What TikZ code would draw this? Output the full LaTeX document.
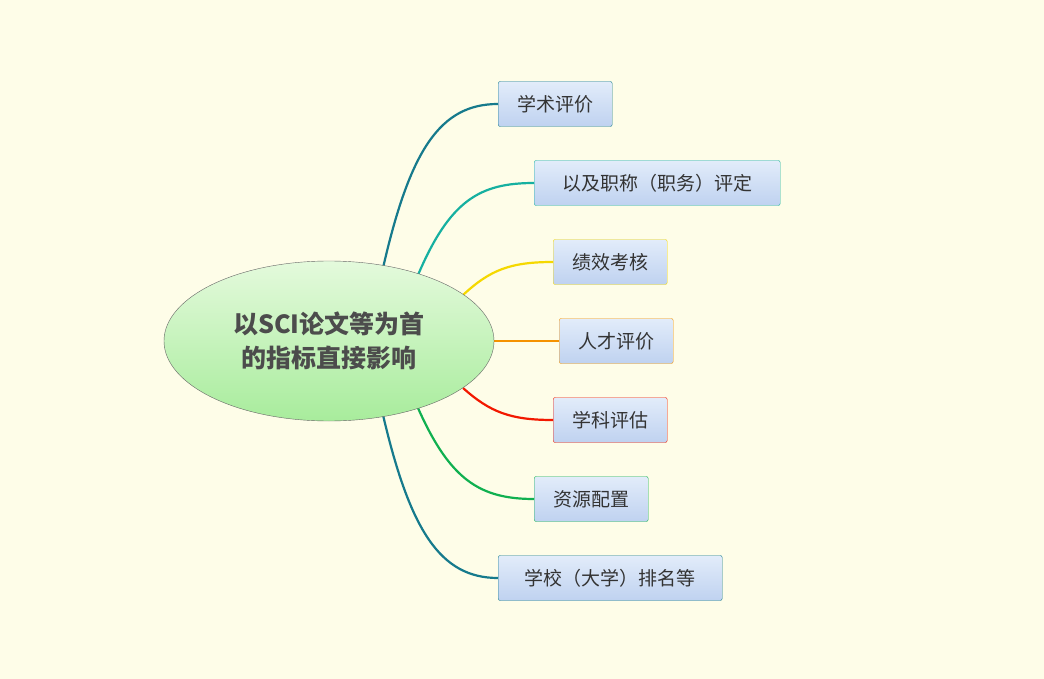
\documentclass[tikz,border=0pt]{standalone}
\usepackage{fontspec}
\usetikzlibrary{shapes.geometric}
\setmainfont{Noto Sans CJK SC}
\begin{document}
\begin{tikzpicture}[x=1pt,y=-1pt,
 leaf/.style={draw=#1,rounded corners=2pt,top color=cA,bottom color=cB,minimum height=45pt,inner xsep=10pt,font=\fontsize{19}{22}\selectfont,text=black!80,anchor=west},
 br/.style={draw=#1,line width=2.2pt}]
\definecolor{bg}{HTML}{FEFDE8}
\definecolor{cA}{HTML}{E2ECFA}\definecolor{cB}{HTML}{BFD2F0}
\definecolor{c1}{HTML}{167A8C}\definecolor{c2}{HTML}{16B0A0}
\definecolor{c3}{HTML}{F5D800}\definecolor{c4}{HTML}{F59200}
\definecolor{c5}{HTML}{F21800}\definecolor{c6}{HTML}{10B050}
\definecolor{gA}{HTML}{E4FADC}\definecolor{gB}{HTML}{A8EC9C}
\useasboundingbox[fill=bg] (0,0) rectangle (1044,679);
\node[leaf=c1,minimum width=114pt] (n1) at (498,104) {学术评价};
\node[leaf=c2,minimum width=246pt] (n2) at (534,183) {以及职称（职务）评定};
\node[leaf=c3,minimum width=114pt] (n3) at (553,262) {绩效考核};
\node[leaf=c4,minimum width=114pt] (n4) at (559,341) {人才评价};
\node[leaf=c5,minimum width=114pt] (n5) at (553,420) {学科评估};
\node[leaf=c6,minimum width=114pt] (n6) at (534,499) {资源配置};
\node[leaf=c1,minimum width=224pt] (n7) at (498,578) {学校（大学）排名等};
\coordinate (s1) at (383,268);\coordinate (s2) at (418,275);
\coordinate (s3) at (463,295);\coordinate (s4) at (490,341);
\coordinate (s5) at (463,388);\coordinate (s6) at (418,408);
\coordinate (s7) at (383,415);
\draw[br=c1] (s1) .. controls (410,150) and (440,104) .. (n1.west);
\draw[br=c2] (s2) .. controls (450,200) and (480,183) .. (n2.west);
\draw[br=c3] (s3) .. controls (490,270) and (510,262) .. (n3.west);
\draw[br=c4] (s4) -- (n4.west);
\draw[br=c5] (s5) .. controls (490,412) and (510,420) .. (n5.west);
\draw[br=c6] (s6) .. controls (450,480) and (480,499) .. (n6.west);
\draw[br=c1] (s7) .. controls (410,530) and (440,578) .. (n7.west);
\node[ellipse,draw=gray!80!black,top color=gA,bottom color=gB,minimum width=330pt,minimum height=160pt,inner sep=0pt,align=center,font=\bfseries\fontsize{25}{34}\selectfont,text=black!70] (c) at (329,341) {以SCI论文等为首\\的指标直接影响};
\end{tikzpicture}
\end{document}
